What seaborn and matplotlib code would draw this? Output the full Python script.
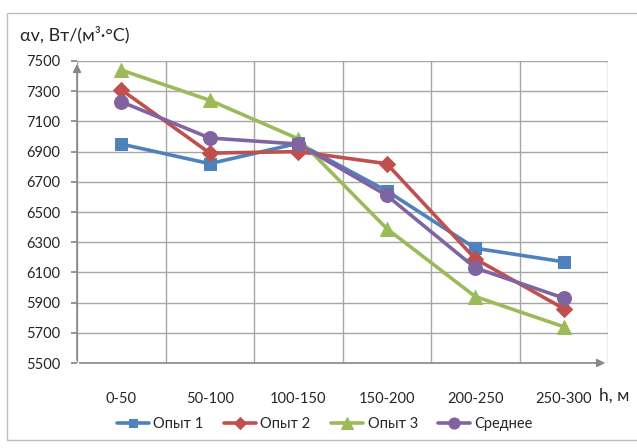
import numpy as np
import pandas as pd
import matplotlib
matplotlib.use("Agg")
import matplotlib.pyplot as plt
import seaborn as sns

# Data
categories = ['0-50', '50-100', '100-150', '150-200', '200-250', '250-300']
opyt1 = [6950, 6820, 6955, 6640, 6260, 6170]
opyt2 = [7310, 6890, 6900, 6820, 6190, 5860]
opyt3 = [7440, 7240, 6985, 6390, 5940, 5740]
srednee = [7230, 6990, 6950, 6610, 6130, 5930]
series_names = ['Опыт 1', 'Опыт 2', 'Опыт 3', 'Среднее']
y_ticks = list(range(5500, 7501, 200))

colors = ['#4F81BD', '#C0504D', '#9BBB59', '#8064A2']
markers = ['s', 'D', '^', 'o']
marker_sizes = [8, 8, 10, 10]

rows = []
for name, vals in zip(series_names, [opyt1, opyt2, opyt3, srednee]):
    for i, v in enumerate(vals):
        rows.append({'pos': i, 'value': v, 'series': name})
df = pd.DataFrame(rows)

sns.set_theme(style="white")
plt.rcParams['font.family'] = ['Lato', 'DejaVu Sans']

fig = plt.figure(figsize=(6.37, 4.48), dpi=100)
ax = fig.add_axes([77 / 637, 85 / 448, (608 - 77) / 637, (363 - 61) / 448])

for name, c, m, ms in zip(series_names, colors, markers, marker_sizes):
    sub = df[df['series'] == name]
    sns.lineplot(data=sub, x='pos', y='value', ax=ax, color=c, marker=m,
                 markersize=ms, markeredgecolor=c, linewidth=2.6, label=name)

ax.set_xlim(-0.5, 5.5)
ax.set_ylim(5500, 7500)
ax.set_yticks(y_ticks)
ax.set_yticklabels([str(t) for t in y_ticks], fontsize=10.5)
ax.set_xticks(range(len(categories)))
ax.set_xticklabels(categories, fontsize=10.5)
ax.set_xticks(np.arange(-0.5, 6.0, 1.0), minor=True)
ax.tick_params(axis='x', which='major', length=0, pad=21)
ax.tick_params(axis='x', which='minor', length=5, color='#888888', direction='out')
ax.tick_params(axis='y', which='major', length=4, color='#888888', left=True, pad=8)
ax.set_xlabel('')
ax.set_ylabel('')

ax.grid(axis='y', which='major', color='#A6A6A6', linewidth=1)
ax.grid(axis='x', which='minor', color='#A6A6A6', linewidth=1)
ax.set_axisbelow(True)
for s in ax.spines.values():
    s.set_visible(False)

# axis arrows
ax.annotate('', xy=(0, 1.0), xytext=(0, 0), xycoords='axes fraction',
            arrowprops=dict(arrowstyle='-|>', color='#888888', lw=1.2, mutation_scale=12),
            annotation_clip=False)
ax.annotate('', xy=(1.0, 0), xytext=(0, 0), xycoords='axes fraction',
            arrowprops=dict(arrowstyle='-|>', color='#888888', lw=1.2, mutation_scale=12),
            annotation_clip=False)

fig.text(20 / 637, 1 - 35 / 448, 'αv, Вт/(м³·°C)', fontsize=13, va='center', ha='left')
fig.text(599 / 637, 1 - 396 / 448, 'h, м', fontsize=12.5, va='center', ha='left')

leg = ax.legend(loc='center', bbox_to_anchor=(325 / 637, 1 - 424 / 448),
                bbox_transform=fig.transFigure, ncol=4, frameon=False,
                fontsize=10.5, handlelength=2.2, columnspacing=1.4, handletextpad=0.3,
                markerscale=0.8)

# light chart border
fig.patches.append(plt.Rectangle((7 / 637, 8 / 448), 640 / 637, 1 - 21 / 448,
                                 transform=fig.transFigure, fill=False,
                                 edgecolor='#BFBFBF', linewidth=1))

fig.savefig('out.png', dpi=100)
